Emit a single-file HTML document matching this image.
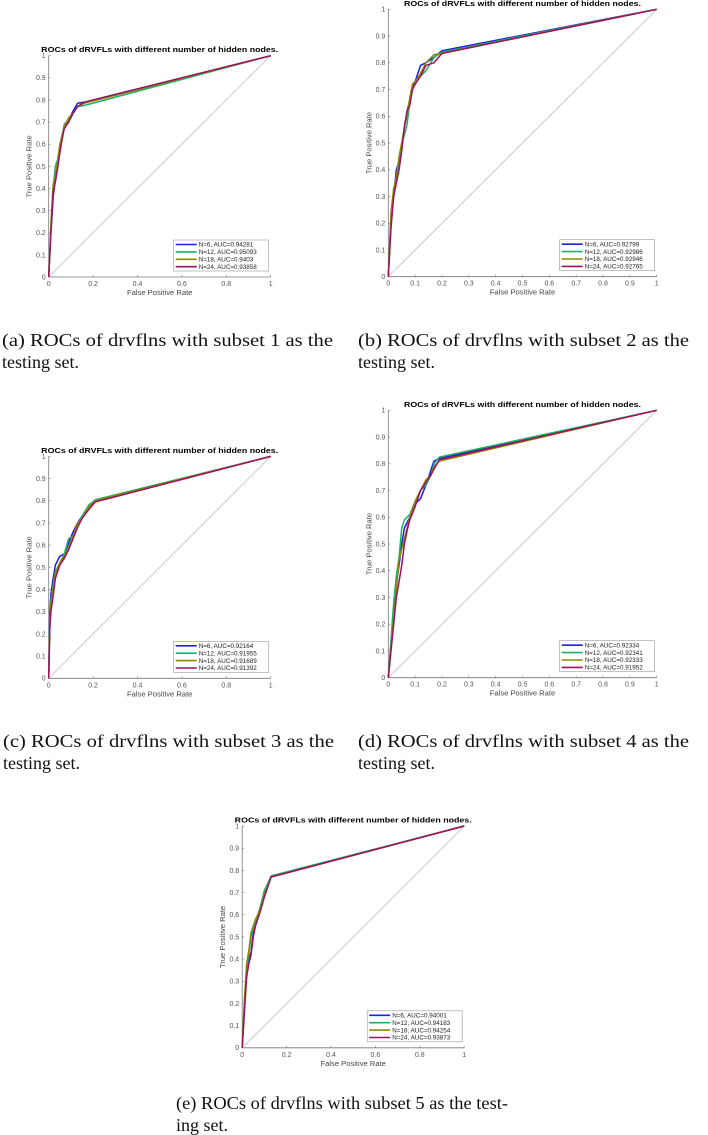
<!DOCTYPE html>
<html><head><meta charset="utf-8">
<style>
html,body{margin:0;padding:0;background:#fff;}
svg{display:block;}
.tick{font-family:"Liberation Sans",sans-serif;font-size:7px;fill:#555;}
.ttl{font-family:"Liberation Sans",sans-serif;font-size:7.4px;font-weight:bold;fill:#000;}
.lab{font-family:"Liberation Sans",sans-serif;font-size:7.6px;fill:#444;}
.leg{font-family:"Liberation Sans",sans-serif;font-size:6.3px;fill:#222;}
.cap{font-family:"Liberation Serif",serif;font-size:18px;fill:#111;}
</style></head>
<body>
<svg id="fig" width="708" height="1135" viewBox="0 0 708 1135" xmlns="http://www.w3.org/2000/svg"></svg>
<script>
// ---- data ----
const seriesNames = ["N=6","N=12","N=18","N=24"];
const colors = ["#1f1fe0","#1fb068","#8a8a00","#a01060"];
const aucA = ["0.94281","0.95093","0.9403","0.93858"];
const aucB = ["0.92799","0.92986","0.92946","0.92765"];
const aucC = ["0.92164","0.91955","0.91689","0.91392"];
const aucD = ["0.92334","0.92341","0.92333","0.91952"];
const aucE = ["0.94001","0.94183","0.94254","0.93873"];

const fprA = [0,0.01,0.02,0.03,0.04,0.05,0.06,0.07,0.09,0.11,0.13,0.16,1];
const tprA6  = [0,0.2,0.36,0.44,0.5,0.57,0.64,0.68,0.71,0.75,0.785,0.79,1];
const tprA12 = [0,0.22,0.4,0.5,0.53,0.58,0.63,0.69,0.71,0.74,0.77,0.775,1];
const tprA18 = [0,0.24,0.42,0.45,0.52,0.6,0.64,0.68,0.72,0.74,0.77,0.785,1];
const tprA24 = [0,0.2,0.38,0.43,0.49,0.56,0.62,0.67,0.7,0.74,0.77,0.79,1];

const fprB = [0,0.01,0.02,0.03,0.04,0.05,0.06,0.07,0.08,0.09,0.1,0.12,0.14,0.17,0.2,1];
const tprB6  = [0,0.22,0.3,0.4,0.43,0.49,0.56,0.62,0.66,0.71,0.73,0.79,0.8,0.82,0.845,1];
const tprB12 = [0,0.2,0.33,0.36,0.44,0.5,0.53,0.57,0.65,0.72,0.73,0.75,0.77,0.82,0.84,1];
const tprB18 = [0,0.24,0.33,0.37,0.45,0.5,0.56,0.6,0.67,0.72,0.73,0.76,0.8,0.83,0.835,1];
const tprB24 = [0,0.18,0.3,0.35,0.4,0.47,0.56,0.62,0.64,0.7,0.72,0.75,0.79,0.8,0.835,1];

const fprC = [0,0.005,0.01,0.02,0.03,0.05,0.07,0.09,0.11,0.13,0.15,0.18,0.21,1];
const tprC6  = [0,0.3,0.38,0.45,0.51,0.55,0.56,0.61,0.66,0.7,0.73,0.77,0.8,1];
const tprC12 = [0,0.26,0.35,0.42,0.48,0.52,0.56,0.63,0.64,0.69,0.73,0.78,0.805,1];
const tprC18 = [0,0.24,0.33,0.4,0.47,0.52,0.55,0.59,0.64,0.7,0.72,0.77,0.8,1];
const tprC24 = [0,0.22,0.3,0.37,0.45,0.51,0.54,0.58,0.63,0.68,0.72,0.76,0.795,1];

const fprD = [0,0.02,0.03,0.04,0.05,0.06,0.07,0.08,0.1,0.12,0.14,0.16,0.17,0.19,1];
const tprD6  = [0,0.25,0.35,0.42,0.5,0.56,0.58,0.6,0.65,0.67,0.72,0.78,0.81,0.82,1];
const tprD12 = [0,0.28,0.38,0.45,0.56,0.59,0.6,0.61,0.66,0.7,0.72,0.76,0.8,0.825,1];
const tprD18 = [0,0.22,0.33,0.44,0.48,0.52,0.56,0.6,0.66,0.7,0.74,0.76,0.79,0.81,1];
const tprD24 = [0,0.2,0.3,0.36,0.42,0.5,0.55,0.59,0.64,0.7,0.73,0.76,0.78,0.815,1];

const fprE = [0,0.01,0.02,0.03,0.04,0.05,0.06,0.08,0.1,0.12,0.13,1];
const tprE6  = [0,0.18,0.33,0.4,0.43,0.52,0.56,0.62,0.7,0.75,0.77,1];
const tprE12 = [0,0.2,0.36,0.42,0.5,0.54,0.57,0.63,0.71,0.75,0.775,1];
const tprE18 = [0,0.22,0.38,0.44,0.52,0.55,0.58,0.62,0.69,0.74,0.77,1];
const tprE24 = [0,0.16,0.32,0.38,0.42,0.5,0.55,0.61,0.68,0.74,0.77,1];

const xTicksFine = ["0","0.1","0.2","0.3","0.4","0.5","0.6","0.7","0.8","0.9","1"];
const xTicksCoarse = ["0","0.2","0.4","0.6","0.8","1"];
const yTicks = ["0","0.1","0.2","0.3","0.4","0.5","0.6","0.7","0.8","0.9","1"];

const panels = [
 {id:"a",x0:48.7,x1:270.7,y0:277,y1:55.7,xt:xTicksCoarse,fpr:fprA,tpr:[tprA6,tprA12,tprA18,tprA24],auc:aucA,
  cap1:"(a) ROCs of drvflns with subset 1 as the",cap2:"testing set.",cx:2,cy:346},
 {id:"b",x0:388.3,x1:656.7,y0:276.7,y1:9.3,xt:xTicksFine,fpr:fprB,tpr:[tprB6,tprB12,tprB18,tprB24],auc:aucB,
  cap1:"(b) ROCs of drvflns with subset 2 as the",cap2:"testing set.",cx:358,cy:346},
 {id:"c",x0:48.7,x1:270.7,y0:678.3,y1:456.4,xt:xTicksCoarse,fpr:fprC,tpr:[tprC6,tprC12,tprC18,tprC24],auc:aucC,
  cap1:"(c) ROCs of drvflns with subset 3 as the",cap2:"testing set.",cx:3,cy:747},
 {id:"d",x0:388.3,x1:656.7,y0:677.7,y1:410.3,xt:xTicksFine,fpr:fprD,tpr:[tprD6,tprD12,tprD18,tprD24],auc:aucD,
  cap1:"(d) ROCs of drvflns with subset 4 as the",cap2:"testing set.",cx:358,cy:747},
 {id:"e",x0:242.2,x1:464.2,y0:1047.8,y1:826,xt:xTicksCoarse,fpr:fprE,tpr:[tprE6,tprE12,tprE18,tprE24],auc:aucE,
  cap1:"(e) ROCs of drvflns with subset 5 as the test-",cap2:"ing set.",cx:176,cy:1109}
];

const NS="http://www.w3.org/2000/svg";
const svg=document.getElementById("fig");
function mk(tag,attrs,parent){const e=document.createElementNS(NS,tag);for(const k in attrs)e.setAttribute(k,attrs[k]);(parent||svg).appendChild(e);return e;}

panels.forEach(p=>{
  const g=mk("g",{});
  
  
  const sx=v=>p.x0+(p.x1-p.x0)*v;
  const sy=v=>p.y0-(p.y0-p.y1)*v;
  // title
  const t=mk("text",{x:(p.x0+p.x1)/2,y:p.y1-3.5,"text-anchor":"middle",class:"ttl",textLength:237,lengthAdjust:"spacingAndGlyphs"},g);
  t.textContent="ROCs of dRVFLs with different number of hidden nodes.";
  
  
  // diagonal
  const d=mk("line",{x1:sx(0),y1:sy(0),x2:sx(1),y2:sy(1),stroke:"#c8c8c8","stroke-width":1},g);
  
  
  // axes
  const ax=mk("path",{d:`M${p.x0} ${p.y1}V${p.y0}H${p.x1}`,fill:"none",stroke:"#777","stroke-width":0.8},g);
  
  
  yTicks.forEach((lab,i)=>{
    const v=i/(yTicks.length-1);
    mk("line",{x1:p.x0,x2:p.x0+2,y1:sy(v),y2:sy(v),stroke:"#777","stroke-width":0.6},g);
    const tx=mk("text",{x:p.x0-3,y:sy(v)+2.4,"text-anchor":"end",class:"tick"},g);
    tx.textContent=lab;
    
    
  });
  p.xt.forEach((lab,i)=>{
    const v=i/(p.xt.length-1);
    mk("line",{x1:sx(v),x2:sx(v),y1:p.y0,y2:p.y0-2,stroke:"#777","stroke-width":0.6},g);
    const tx=mk("text",{x:sx(v),y:p.y0+9,"text-anchor":"middle",class:"tick"},g);
    tx.textContent=lab;
    
    
  });
  const xl=mk("text",{x:(p.x0+p.x1)/2,y:p.y0+18,"text-anchor":"middle",class:"lab"},g);
  xl.textContent="False Positive Rate";
  
  
  const yc=(p.y0+p.y1)/2, yx=p.x0-17;
  const yl=mk("text",{x:yx,y:yc,"text-anchor":"middle",class:"lab",transform:`rotate(-90 ${yx} ${yc})`},g);
  yl.textContent="True Positive Rate";
  
  
  // series
  p.tpr.forEach((arr,s)=>{
    const pts=arr.map((v,i)=>sx(p.fpr[i]).toFixed(2)+","+sy(v).toFixed(2)).join(" ");
    const pl=mk("polyline",{points:pts,fill:"none",stroke:colors[s],"stroke-width":1.5,"stroke-linejoin":"round"},g);
    
    
  });
  // legend
  const lw=95,lh=31,lx=p.x1-lw-2,ly=p.y0-lh-6;
  const lg=mk("g",{},g);
  
  
  mk("rect",{x:lx,y:ly,width:lw,height:lh,fill:"#fff",stroke:"#999","stroke-width":0.6},lg);
  seriesNames.forEach((n,s)=>{
    const yy=ly+4.5+s*7.4;
    mk("line",{x1:lx+2,x2:lx+23,y1:yy,y2:yy,stroke:colors[s],"stroke-width":1.6},lg);
    const tx=mk("text",{x:lx+25,y:yy+2.2,class:"leg"},lg);
    tx.textContent=n+", AUC="+p.auc[s];
    
    
  });
  // caption
  const c1=mk("text",{x:p.cx,y:p.cy,class:"cap",textLength:(p.id==="e"?332:331),lengthAdjust:"spacingAndGlyphs"},g);
  c1.textContent=p.cap1;
  
  
  const c2=mk("text",{x:p.cx,y:p.cy+22,class:"cap"},g);
  c2.textContent=p.cap2;
  
  
});
</script>
</body></html>
